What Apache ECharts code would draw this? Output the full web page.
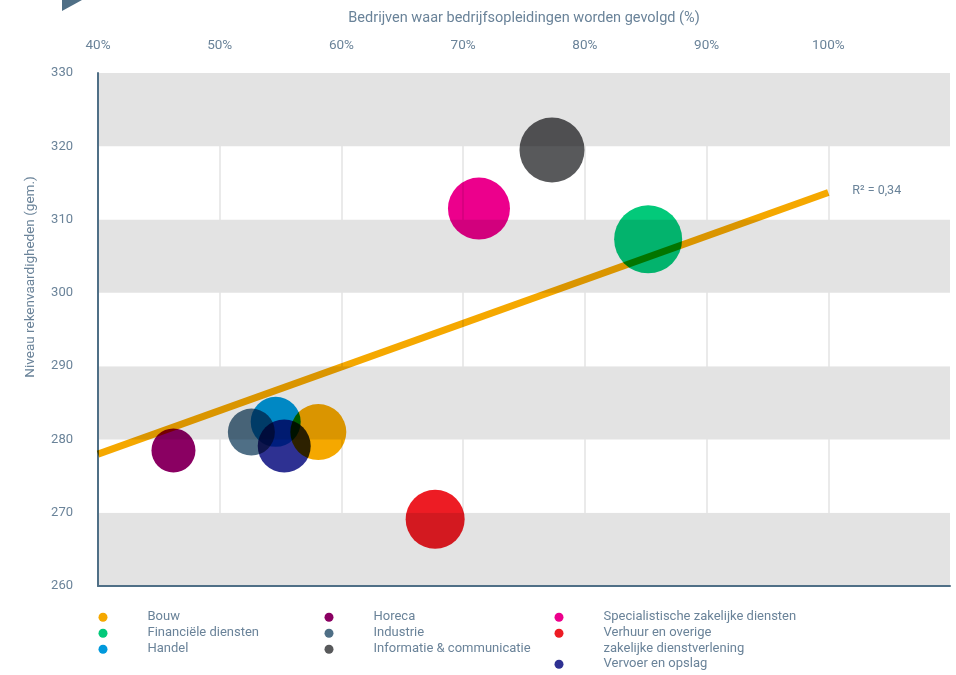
<!DOCTYPE html>
<html>
<head>
<meta charset="utf-8">
<script src="https://cdn.jsdelivr.net/npm/echarts@6/dist/echarts.min.js"></script>
<style>
html,body{margin:0;padding:0;background:#fff;}
#chart{width:956px;height:675px;}
</style>
</head>
<body>
<div id="chart"></div>
<script>
// ---- data ----
var categories = ['Bouw','Financiële diensten','Handel','Horeca','Industrie','Informatie & communicatie','Specialistische zakelijke diensten','Verhuur en overige zakelijke dienstverlening','Vervoer en opslag'];
var xValues = [58.1, 85.2, 54.6, 46.2, 52.6, 77.3, 71.3, 67.7, 55.3];
var yValues = [281.0, 307.3, 282.4, 278.5, 281.0, 319.5, 311.5, 269.1, 279.1];
var bubbleValues = [56, 68, 50, 44, 47, 65, 62, 59, 53];
var colors = ['#f5a800','#03c97a','#0099dc','#8a0062','#4f6f86','#58595b','#ec008c','#ed1c24','#2e3192'];
var trendX = [40, 100];
var trendY = [278.0, 313.7];
var trendLabel = 'R\u00b2 = 0,34';
var xTicks = [40, 50, 60, 70, 80, 90, 100];
var yTicks = [260, 270, 280, 290, 300, 310, 320, 330];
var xTitle = 'Bedrijven waar bedrijfsopleidingen worden gevolgd (%)';
var yTitle = 'Niveau rekenvaardigheden (gem.)';

var txt = '#6a8399';
var axisCol = '#4f6f86';
var FONT = 'Roboto';

var series = categories.map(function (c, i) {
  return {
    name: c,
    type: 'scatter',
    blendMode: 'multiply',
    symbolSize: function (v) { return v[2]; },
    itemStyle: { color: colors[i], opacity: 1 },
    data: [[xValues[i], yValues[i], bubbleValues[i]]],
    z: 3
  };
});
series.unshift({
  name: 'trend',
  type: 'line',
  blendMode: 'multiply',
  symbol: 'none',
  silent: true,
  lineStyle: { color: '#f5a800', width: 7 },
  data: trendX.map(function (x, i) { return [x, trendY[i]]; }),
  endLabel: { show: true, formatter: trendLabel, color: txt, fontSize: 12.5, fontFamily: FONT, distance: 24, offset: [0, -2] },
  z: 2
});

var legendBase = {
  orient: 'vertical', itemWidth: 9, itemHeight: 9, itemGap: 0, icon: 'circle', padding: 0,
  textStyle: { color: txt, fontSize: 13, fontFamily: FONT, lineHeight: 16, padding: [0, 0, 0, 35] },
  selectedMode: false, height: 80
};
function mkLegend(names, left, top, fmt) {
  var o = Object.assign({}, legendBase, { left: left, top: top, data: names });
  if (fmt) o.formatter = fmt;
  return o;
}

var chart = echarts.init(document.getElementById('chart'));
chart.setOption({
  animation: false,
  backgroundColor: '#fff',
  textStyle: { fontFamily: FONT },
  grid: { left: 98, right: 6, top: 73, bottom: 89 },
  xAxis: [{
    type: 'value', position: 'top', min: 40, max: 110, interval: 10,
    name: xTitle, nameLocation: 'middle', nameGap: 47,
    nameTextStyle: { color: txt, fontSize: 14.5, fontFamily: FONT },
    axisLine: { show: false }, axisTick: { show: false },
    axisLabel: { color: txt, fontSize: 13.5, margin: 20, fontFamily: FONT,
      formatter: function (v) { return xTicks.indexOf(v) >= 0 ? v + '%' : ''; } },
    splitLine: { show: true, showMaxLine: false, lineStyle: { color: '#e3e3e3', width: 1.5 } }
  }, {
    type: 'value', position: 'bottom', min: 40, max: 110, interval: 10,
    axisLine: { show: true, onZero: false, lineStyle: { color: axisCol, width: 2 } },
    axisTick: { show: false }, axisLabel: { show: false }, splitLine: { show: false }
  }],
  yAxis: {
    type: 'value', min: 260, max: 330, interval: 10,
    axisLine: { show: true, onZero: false, lineStyle: { color: axisCol, width: 2 } },
    axisTick: { show: false },
    axisLabel: { color: txt, fontSize: 13, margin: 25, fontFamily: FONT,
      formatter: function (v) { return yTicks.indexOf(v) >= 0 ? String(v) : ''; } },
    splitLine: { show: false },
    splitArea: { show: true, areaStyle: { color: ['#e3e3e3', '#ffffff'] } }
  },
  legend: [
    mkLegend(categories.slice(0, 3), 98.5, 609.2),
    mkLegend(categories.slice(3, 6), 324.5, 609.2),
    mkLegend([categories[6]], 554.5, 609.2),
    mkLegend([categories[7]], 554.5, 609.2, function () { return '\nVerhuur en overige\nzakelijke dienstverlening'; }),
    mkLegend([categories[8]], 554.5, 656.2)
  ],
  graphic: [
    { type: 'polygon', shape: { points: [[62, 0], [82, 0], [62, 11]] }, style: { fill: axisCol } },
    { type: 'text', x: 31, y: 277, rotation: Math.PI / 2,
      style: { text: yTitle, fill: txt, fontSize: 13.5, fontFamily: FONT, align: 'center', verticalAlign: 'middle' } }
  ],
  series: series
});
</script>
</body>
</html>
